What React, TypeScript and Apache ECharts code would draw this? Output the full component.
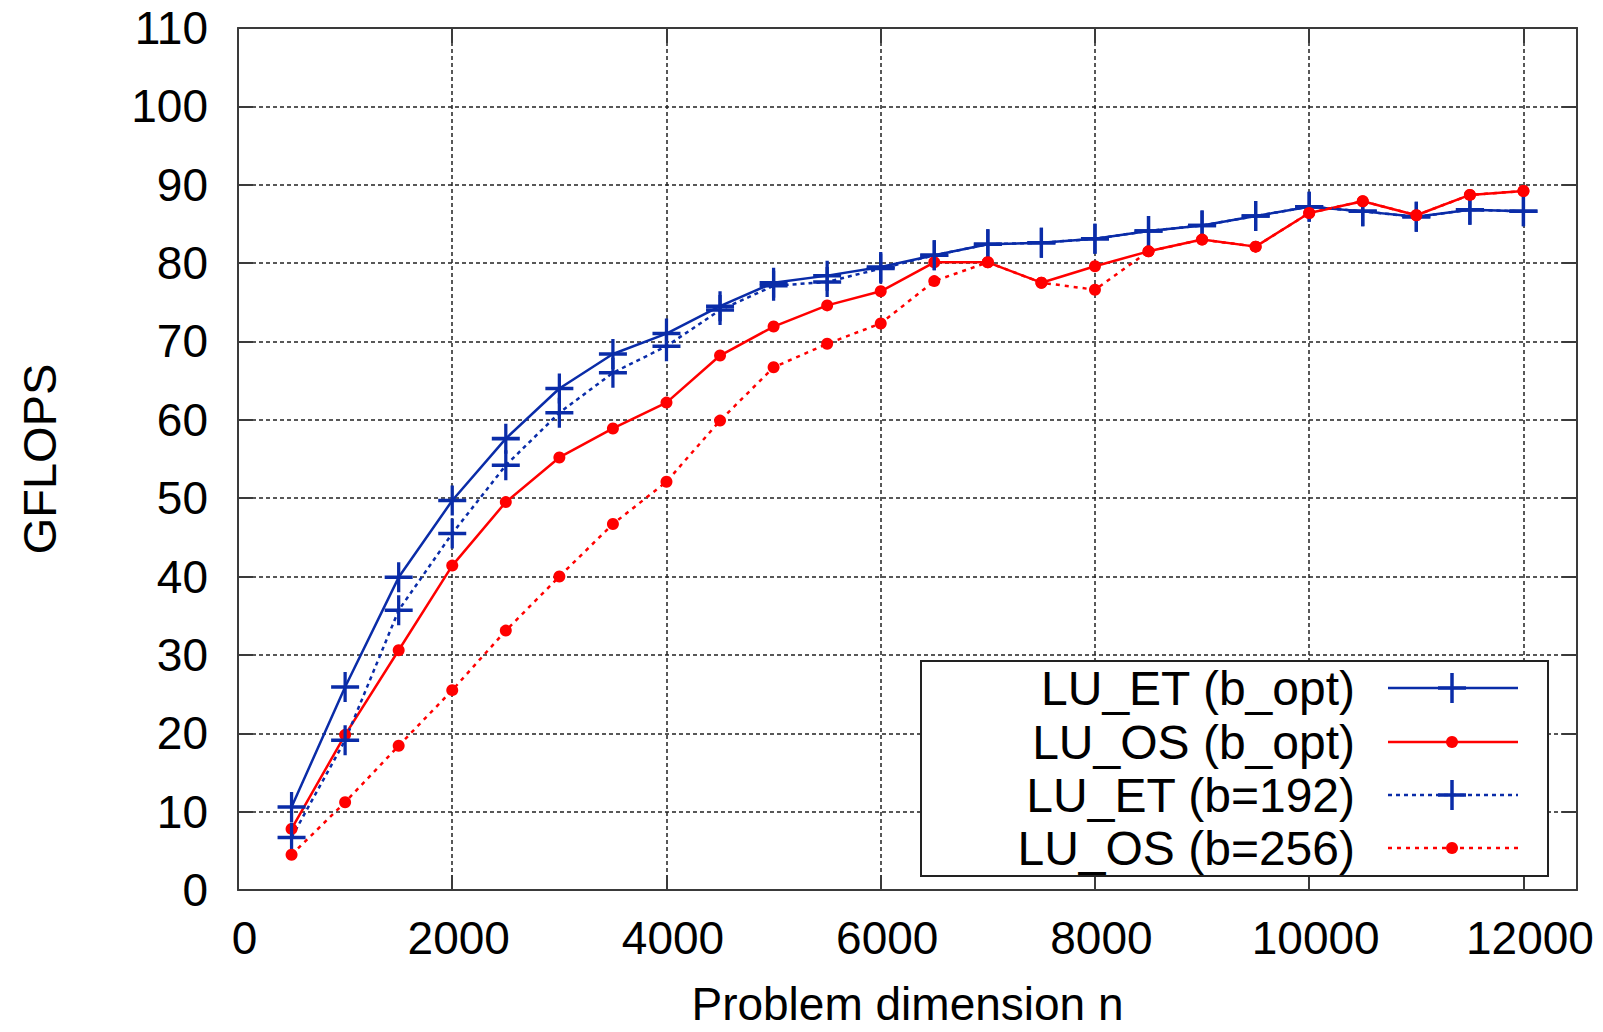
import React, { useEffect, useRef } from 'react';
import * as echarts from 'echarts';

// Problem dimension n
const nValues = [500, 1000, 1500, 2000, 2500, 3000, 3500, 4000, 4500, 5000, 5500, 6000,
  6500, 7000, 7500, 8000, 8500, 9000, 9500, 10000, 10500, 11000, 11500, 12000];

// GFLOPS per series
const luEtOpt = [10.6, 25.9, 39.9, 49.7, 57.6, 64.0, 68.4, 71.0, 74.5, 77.5, 78.4, 79.5,
  81.0, 82.4, 82.6, 83.1, 84.1, 84.8, 86.0, 87.2, 86.6, 85.9, 86.8, 86.6];
const luOsOpt = [7.8, 19.8, 30.6, 41.4, 49.5, 55.2, 58.9, 62.2, 68.2, 71.9, 74.6, 76.4,
  80.1, 80.1, 77.5, 79.6, 81.5, 83.0, 82.1, 86.4, 87.9, 86.1, 88.7, 89.2];
const luEt192 = [6.7, 19.1, 35.7, 45.5, 54.2, 60.9, 66.0, 69.4, 74.0, 77.1, 77.6, 79.3,
  81.0, 82.4, 82.6, 83.1, 84.1, 84.8, 86.0, 87.2, 86.6, 85.9, 86.8, 86.6];
const luOs256 = [4.5, 11.2, 18.4, 25.5, 33.1, 40.0, 46.7, 52.1, 59.9, 66.7, 69.7, 72.3,
  77.7, 80.1, 77.5, 76.6, 81.5, 83.0, 82.1, 86.4, 87.9, 86.1, 88.7, 89.2];

const seriesNames = ['LU_ET (b_opt)', 'LU_OS (b_opt)', 'LU_ET (b=192)', 'LU_OS (b=256)'];

const BLUE = '#0a2ca8';
const RED = '#ff0000';
const FONT = 'Liberation Sans, Arial, Helvetica, sans-serif';
const PLUS = 'path://M13.25,0H16.75V13.25H30V16.75H16.75V30H13.25V16.75H0V13.25H13.25Z';

export default function App() {
  const ref = useRef<HTMLDivElement>(null);

  useEffect(() => {
    const chart = echarts.init(ref.current!, null, { renderer: 'svg' });

    const pairs = (arr: number[]) => nValues.map((n, i) => [n, arr[i]]);

    const gridLine = { show: true, lineStyle: { color: '#222', width: 1.5, type: [4, 3] as number[] } };
    const frameLine = { show: true, onZero: false, lineStyle: { color: '#3a3a3a', width: 2 } };
    const tick = { show: true, inside: true, length: 15, lineStyle: { color: '#3a3a3a', width: 2 } };

    const specs = [
      { name: seriesNames[0], data: luEtOpt, color: BLUE, plus: true, dash: 'solid' as any },
      { name: seriesNames[1], data: luOsOpt, color: RED, plus: false, dash: 'solid' as any },
      { name: seriesNames[2], data: luEt192, color: BLUE, plus: true, dash: [4, 4] },
      { name: seriesNames[3], data: luOs256, color: RED, plus: false, dash: [4, 5] },
    ];

    const series = specs.map((s) => ({
      name: s.name,
      type: 'line',
      xAxisIndex: 0,
      yAxisIndex: 0,
      data: pairs(s.data),
      symbol: s.plus ? PLUS : 'circle',
      symbolSize: s.plus ? [28, 30] : 12,
      showAllSymbol: true,
      itemStyle: { color: s.color, borderWidth: 0 },
      lineStyle: { color: s.color, width: 2.5, type: s.dash },
      emphasis: { disabled: true },
    }));

    // Legend (gnuplot style: text right-aligned, sample on the right)
    const rowY = [688, 742, 795, 848];
    const legendEls: any[] = [
      {
        type: 'rect',
        shape: { x: 921, y: 661, width: 627, height: 215 },
        style: { fill: '#fff', stroke: '#222', lineWidth: 2 },
      },
    ];
    specs.forEach((s, i) => {
      const y = rowY[i];
      legendEls.push({
        type: 'text',
        x: 1355,
        y,
        style: { text: s.name, font: `48px ${FONT}`, fill: '#000', align: 'right', verticalAlign: 'middle' },
      });
      legendEls.push({
        type: 'line',
        shape: { x1: 1388, y1: y, x2: 1518, y2: y },
        style: { stroke: s.color, lineWidth: 2.5, lineDash: s.dash === 'solid' ? null : s.dash },
      });
      if (s.plus) {
        legendEls.push({
          type: 'line',
          shape: { x1: 1438, y1: y, x2: 1466, y2: y },
          style: { stroke: s.color, lineWidth: 3.5 },
        });
        legendEls.push({
          type: 'line',
          shape: { x1: 1452, y1: y - 15, x2: 1452, y2: y + 15 },
          style: { stroke: s.color, lineWidth: 3.5 },
        });
      } else {
        legendEls.push({
          type: 'circle',
          shape: { cx: 1452, cy: y, r: 6 },
          style: { fill: s.color },
        });
      }
    });

    const option: any = {
      animation: false,
      backgroundColor: '#fff',
      textStyle: { fontFamily: FONT },
      grid: { left: 238, right: 26, top: 28, bottom: 142, containLabel: false, outerBoundsMode: 'none' },
      xAxis: [
        {
          type: 'value',
          position: 'bottom',
          min: 0,
          max: 12500,
          interval: 2000,
          axisLine: frameLine,
          axisTick: tick,
          splitLine: gridLine,
          axisLabel: {
            fontSize: 46,
            color: '#000',
            margin: 25,
            padding: [0, 0, 0, 13],
            fontFamily: FONT,
            formatter: (v: number) => (v % 2000 === 0 ? String(v) : ''),
          },
          name: 'Problem dimension n',
          nameLocation: 'middle',
          nameGap: 114,
          nameMoveOverlap: false,
          nameTextStyle: {
            fontSize: 46,
            lineHeight: 44,
            verticalAlign: 'middle',
            color: '#000',
            fontFamily: FONT,
          },
        },
        {
          type: 'value',
          position: 'top',
          min: 0,
          max: 12500,
          interval: 2000,
          axisLine: frameLine,
          axisTick: tick,
          splitLine: { show: false },
          axisLabel: { show: false },
        },
      ],
      yAxis: [
        {
          type: 'value',
          position: 'left',
          min: 0,
          max: 110,
          interval: 10,
          axisLine: frameLine,
          axisTick: tick,
          splitLine: gridLine,
          axisLabel: { fontSize: 46, color: '#000', margin: 30, fontFamily: FONT },
          name: 'GFLOPS',
          nameLocation: 'middle',
          nameGap: 175,
          nameRotate: 90,
          nameTextStyle: { fontSize: 47, color: '#000', fontFamily: FONT },
        },
        {
          type: 'value',
          position: 'right',
          min: 0,
          max: 110,
          interval: 10,
          axisLine: frameLine,
          axisTick: tick,
          splitLine: { show: false },
          axisLabel: { show: false },
        },
      ],
      series,
      graphic: { elements: legendEls.map((e) => ({ ...e, z: 100 })) },
    };

    chart.setOption(option);
    return () => chart.dispose();
  }, []);

  return (
    <div
      ref={ref}
      style={{ position: 'fixed', left: 0, top: 0, width: 1603, height: 1032, background: '#fff' }}
    />
  );
}
